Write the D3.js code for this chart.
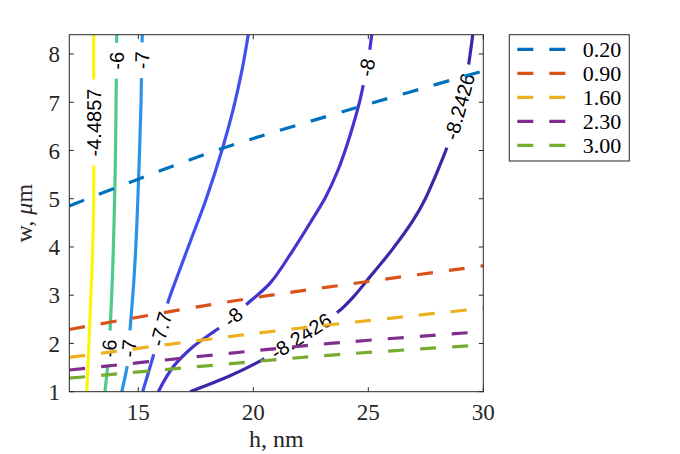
<!DOCTYPE html>
<html>
<head>
<meta charset="utf-8">
<script src="https://cdn.jsdelivr.net/npm/d3@7"></script>
<style>
  body { margin: 0; background: #fff; }
  text { font-family: "Liberation Serif", serif; }
</style>
</head>
<body>
<svg id="chart" width="680" height="454"></svg>
<script>
// contour levels and their traced points, [h (nm), w (um)]
const levels = [-4.4857, -6, -7, -7.7, -8, -8.2426];
const contourA = [[12.76,1.0],[12.84,1.86],[12.93,2.90],[12.97,3.32],[13.03,4.2],[13.06,4.97],[13.065,6.0],[13.065,6.58],[13.06,7.5],[13.06,8.4]];
const contourB = [[13.55,1.0],[13.67,1.55],[13.72,1.90],[13.77,2.24],[13.87,3.32],[13.94,4.4],[13.99,5.46],[14.03,6.8],[14.05,7.86],[14.06,8.4]];
const contourC = [[14.28,1.0],[14.52,1.55],[14.58,1.90],[14.64,2.28],[14.81,3.32],[14.94,4.5],[15.04,5.8],[15.12,7.0],[15.15,7.87],[15.17,8.4]];
const contourD = [[15.19,1.0],[15.65,1.74],[15.98,2.30],[16.30,2.87],[16.64,3.32],[17.29,4.15],[17.94,4.98],[18.64,6.01],[19.12,6.84],[19.51,7.67],[19.78,8.4]];
const contourE = [[15.87,1.0],[16.51,1.51],[17.38,1.93],[18.51,2.32],[19.12,2.55],[19.68,2.80],[20.73,3.25],[21.68,3.90],[22.55,4.56],[23.14,5.03],[23.68,5.59],[24.07,6.11],[24.38,6.59],[24.62,7.01],[24.81,7.42],[24.93,7.72],[25.0,7.88],[25.15,8.4]];
const contourF = [[17.25,1.0],[18.99,1.33],[20.43,1.67],[22.07,2.155],[23.70,2.66],[24.38,2.98],[25.07,3.38],[26.03,3.94],[26.96,4.56],[27.47,4.99],[27.90,5.45],[28.41,6.05],[28.77,6.59],[28.96,6.91],[29.07,7.11],[29.31,7.63],[29.54,8.4]];

// inline label positions: [level, h, w]
const contourLabels = [
  [-4.4857, 13.065, 6.58],
  [-6, 14.05, 7.86], [-6, 13.72, 1.90],
  [-7, 15.15, 7.87], [-7, 14.58, 1.90],
  [-7.7, 15.98, 2.30],
  [-8, 19.12, 2.55], [-8, 24.93, 7.72],
  [-8.2426, 22.07, 2.155], [-8.2426, 28.96, 6.91]
];

// dashed curves, one per legend entry
const seriesNames = ['0.20', '0.90', '1.60', '2.30', '3.00'];
const dash020 = [[12,4.85],[15.07,5.42],[18.70,6.05],[24.57,6.90],[30,7.65]];
const dash090 = [[12,2.29],[18.99,2.87],[25.07,3.29],[30,3.61]];
const dash160 = [[12,1.71],[17.76,2.07],[21.89,2.31],[30,2.73]];
const dash230 = [[12,1.45],[17.83,1.74],[23.33,2.0],[30,2.245]];
const dash300 = [[12,1.28],[17.83,1.53],[23.41,1.76],[30,1.97]];

const xTicks = [15, 20, 25, 30];
const yTicks = [1, 2, 3, 4, 5, 6, 7, 8];

const contours = [contourA, contourB, contourC, contourD, contourE, contourF];
const dashes = [dash020, dash090, dash160, dash230, dash300];

const svg = d3.select('#chart');
const box = { l: 69.3, r: 483.3, t: 34.7, b: 391.7 };
const axisColor = '#262626';

const x = d3.scaleLinear().domain([12, 30]).range([box.l, box.r]);
const y = d3.scaleLinear().domain([1, 8.4]).range([box.b, box.t]);

// parula-like colours per level
const levelColor = d3.scaleOrdinal()
  .domain(levels)
  .range(['#f9f50f', '#4ccb8a', '#2b93e6', '#4250ee', '#4434cf', '#3e26a8']);
const seriesColor = d3.scaleOrdinal()
  .domain(seriesNames)
  .range(['#0072bd', '#d95319', '#edb120', '#7e2f8e', '#77ac30']);

const defs = svg.append('defs');
defs.append('clipPath').attr('id', 'plotClip')
  .append('rect')
  .attr('x', box.l).attr('y', box.t)
  .attr('width', box.r - box.l).attr('height', box.b - box.t);

const mask = defs.append('mask').attr('id', 'gapMask')
  .attr('maskUnits', 'userSpaceOnUse')
  .attr('x', 0).attr('y', 0).attr('width', 680).attr('height', 454);
mask.append('rect').attr('width', 680).attr('height', 454).attr('fill', 'white');

const line = d3.line()
  .x(d => x(d[0]))
  .y(d => y(d[1]))
  .curve(d3.curveCatmullRom.alpha(0.5));

const plot = svg.append('g').attr('clip-path', 'url(#plotClip)');

// contour lines, gaps cut by the mask
const contourG = plot.append('g').attr('mask', 'url(#gapMask)');
contours.forEach((pts, i) => {
  contourG.append('path')
    .attr('d', line(pts))
    .attr('fill', 'none')
    .attr('stroke', levelColor(levels[i]))
    .attr('stroke-width', 3.2);
});

// contour labels
const labelSize = 20, pad = 9;
const labelG = plot.append('g');
contourLabels.forEach(([lvl, h, w]) => {
  const pts = contours[levels.indexOf(lvl)].map(p => [x(p[0]), y(p[1])]);
  const cx = x(h), cy = y(w);
  let k = 0, bd = Infinity;
  pts.forEach((p, j) => {
    const dd = (p[0] - cx) ** 2 + (p[1] - cy) ** 2;
    if (dd < bd) { bd = dd; k = j; }
  });
  const a = pts[Math.max(k - 1, 0)], b = pts[Math.min(k + 1, pts.length - 1)];
  let ang = Math.atan2(b[1] - a[1], b[0] - a[0]) * 180 / Math.PI;
  while (ang > 45) ang -= 180;
  while (ang <= -135) ang += 180;
  const tf = `translate(${cx},${cy}) rotate(${ang})`;
  const t = labelG.append('text')
    .attr('transform', tf)
    .attr('text-anchor', 'middle')
    .attr('dy', '0.36em')
    .style('font-family', '"Liberation Sans", Arial, sans-serif')
    .style('font-size', labelSize + 'px')
    .attr('fill', '#000')
    .text(String(lvl));
  const len = t.node().getComputedTextLength();
  mask.append('rect')
    .attr('transform', tf)
    .attr('x', -len / 2 - pad).attr('y', -labelSize * 0.55)
    .attr('width', len + 2 * pad).attr('height', labelSize * 1.1)
    .attr('fill', 'black');
});

// dashed series
dashes.forEach((pts, i) => {
  plot.append('path')
    .attr('d', line(pts))
    .attr('fill', 'none')
    .attr('stroke', seriesColor(seriesNames[i]))
    .attr('stroke-width', 3.2)
    .attr('stroke-dasharray', '16,16');
});

// axes box and ticks
const tickLen = 4.5;
const axes = svg.append('g').attr('stroke', axisColor).attr('stroke-width', 1);
axes.append('rect')
  .attr('x', box.l).attr('y', box.t)
  .attr('width', box.r - box.l).attr('height', box.b - box.t)
  .attr('fill', 'none');
xTicks.forEach(v => {
  axes.append('line').attr('x1', x(v)).attr('x2', x(v)).attr('y1', box.b).attr('y2', box.b - tickLen);
  axes.append('line').attr('x1', x(v)).attr('x2', x(v)).attr('y1', box.t).attr('y2', box.t + tickLen);
});
yTicks.forEach(v => {
  axes.append('line').attr('y1', y(v)).attr('y2', y(v)).attr('x1', box.l).attr('x2', box.l + tickLen);
  axes.append('line').attr('y1', y(v)).attr('y2', y(v)).attr('x1', box.r).attr('x2', box.r - tickLen);
});

const tickFont = 23;
svg.append('g').selectAll('text').data(xTicks).join('text')
  .attr('x', d => x(d)).attr('y', 419.5)
  .attr('text-anchor', 'middle')
  .style('font-size', tickFont + 'px')
  .attr('fill', axisColor)
  .text(d => d);
svg.append('g').selectAll('text').data(yTicks).join('text')
  .attr('x', 60).attr('y', d => y(d))
  .attr('dy', '0.36em')
  .attr('text-anchor', 'end')
  .style('font-size', tickFont + 'px')
  .attr('fill', axisColor)
  .text(d => d);

// axis titles
svg.append('text')
  .attr('x', (box.l + box.r) / 2).attr('y', 446.7)
  .attr('text-anchor', 'middle')
  .style('font-size', '24px')
  .attr('fill', axisColor)
  .text('h, nm');
const yl = svg.append('text')
  .attr('transform', `translate(32,${(box.t + box.b) / 2}) rotate(-90)`)
  .attr('text-anchor', 'middle')
  .style('font-size', '24px')
  .attr('fill', axisColor);
yl.append('tspan').text('w, ');
yl.append('tspan').style('font-style', 'italic').text('μ');
yl.append('tspan').text('m');

// legend
const leg = svg.append('g');
leg.append('rect')
  .attr('x', 509.3).attr('y', 34.7)
  .attr('width', 120).attr('height', 126.3)
  .attr('fill', '#fff')
  .attr('stroke', axisColor).attr('stroke-width', 1);
seriesNames.forEach((name, i) => {
  const ly = 49.3 + i * 24;
  leg.append('line')
    .attr('x1', 517.3).attr('x2', 565.3)
    .attr('y1', ly).attr('y2', ly)
    .attr('stroke', seriesColor(name))
    .attr('stroke-width', 3.2)
    .attr('stroke-dasharray', '16,16');
  leg.append('text')
    .attr('x', 582.7).attr('y', ly)
    .attr('dy', '0.33em')
    .style('font-size', '22px')
    .attr('fill', '#000')
    .text(name);
});
</script>
</body>
</html>
